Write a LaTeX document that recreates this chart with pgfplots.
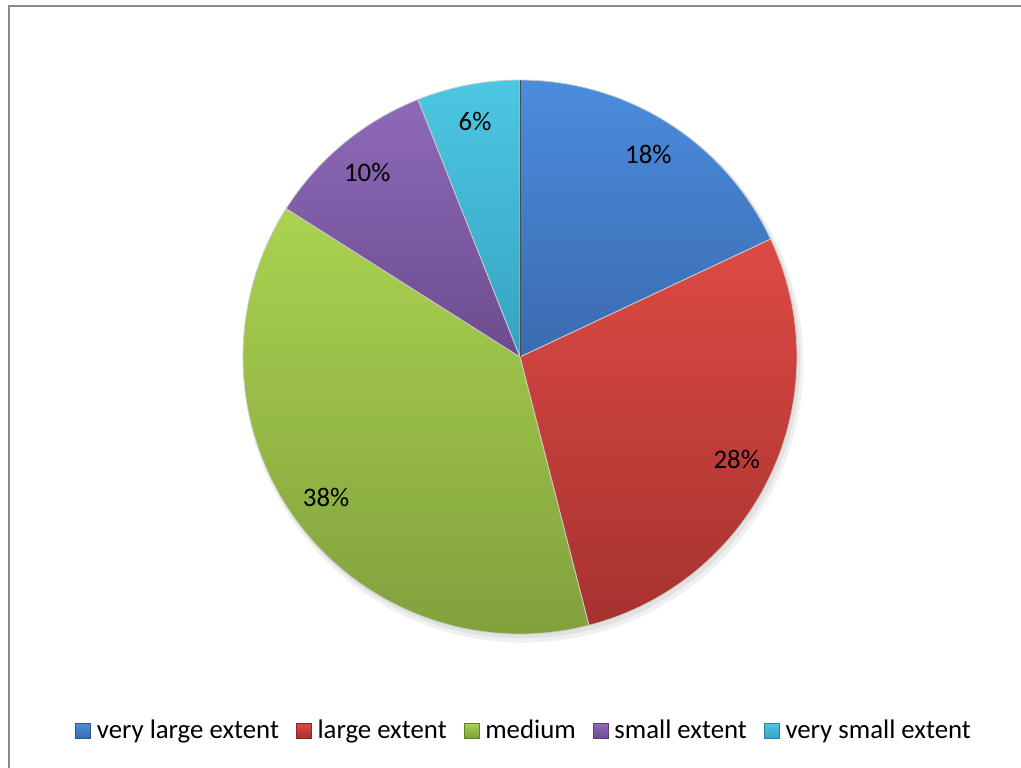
\documentclass[border=0pt]{standalone}
\usepackage{pgfplots}
\pgfplotsset{compat=1.18}
\usepackage{fontspec}
\setmainfont{Carlito}

\definecolor{frame}{HTML}{8A8A8A}
\definecolor{blueT}{HTML}{4B8CDD}
\definecolor{blueB}{HTML}{3A6BAF}
\definecolor{redT}{HTML}{DE4A44}
\definecolor{redB}{HTML}{A6322F}
\definecolor{greenT}{HTML}{ABD250}
\definecolor{greenB}{HTML}{7E9E3B}
\definecolor{purpleT}{HTML}{8E69B9}
\definecolor{purpleB}{HTML}{6C4C8E}
\definecolor{cyanT}{HTML}{4CC7E1}
\definecolor{cyanB}{HTML}{35A3C3}

\newcommand{\lblfont}{\fontsize{13.4}{15}\selectfont}

% #1 = start (percent), #2 = value (percent), #3/#4 = colours
\newcommand{\slice}[4]{%
  \shade[top color=#3, bottom color=#4, draw=white!80!black, line width=0.4pt]
    (axis cs:0,0) -- (axis cs:{cos(90-3.6*#1)},{sin(90-3.6*#1)})
    arc[start angle={90-3.6*#1}, end angle={90-3.6*(#1+#2)}, radius=138.5pt] -- cycle;
  \node[font=\lblfont, inner sep=0pt] at (axis cs:{0.865*cos(90-3.6*(#1+#2/2))},{0.865*sin(90-3.6*(#1+#2/2))}) {#2\%};
}

\newcommand{\legsq}[2]{\shade[top color=#1, bottom color=#2, draw=#2!80!black, line width=0.3pt] (0pt,-3.75pt) rectangle (7.5pt,3.75pt);}

\begin{document}
\begin{tikzpicture}
\draw[color=frame, line width=1pt] (4.5pt,-10pt) -- (4.5pt,380.5pt) -- (530pt,380.5pt);
\begin{axis}[
  at={(260pt,205pt)}, anchor=origin,
  x=138.5pt, y=138.5pt,
  xmin=-1, xmax=1, ymin=-1, ymax=1,
  hide axis, clip=false,
  legend columns=5,
  legend cell align=left,
  legend style={draw=none, fill=none, font=\lblfont,
    at={(0.511,-0.175)}, anchor=center,
    nodes={inner xsep=3pt, inner ysep=1pt},
    /tikz/every even column/.append style={column sep=5.5pt}},
]
\fill[black, opacity=0.06] (axis cs:0.012,-0.02) circle[radius=140pt];
\fill[black, opacity=0.06] (axis cs:0.008,-0.012) circle[radius=139pt];
\slice{0}{18}{blueT}{blueB}
\slice{18}{28}{redT}{redB}
\slice{46}{38}{greenT}{greenB}
\slice{84}{10}{purpleT}{purpleB}
\slice{94}{6}{cyanT}{cyanB}
\draw[black!70, line width=0.5pt] (axis cs:0,0) -- (axis cs:0,1);

\addlegendimage{legend image code/.code={\legsq{blueT}{blueB}}}
\addlegendentry{very large extent}
\addlegendimage{legend image code/.code={\legsq{redT}{redB}}}
\addlegendentry{large extent}
\addlegendimage{legend image code/.code={\legsq{greenT}{greenB}}}
\addlegendentry{medium}
\addlegendimage{legend image code/.code={\legsq{purpleT}{purpleB}}}
\addlegendentry{small extent}
\addlegendimage{legend image code/.code={\legsq{cyanT}{cyanB}}}
\addlegendentry{very small extent}
\end{axis}
\pgfresetboundingbox
\useasboundingbox (0,0) rectangle (510.5pt,383.5pt);
\end{tikzpicture}
\end{document}
